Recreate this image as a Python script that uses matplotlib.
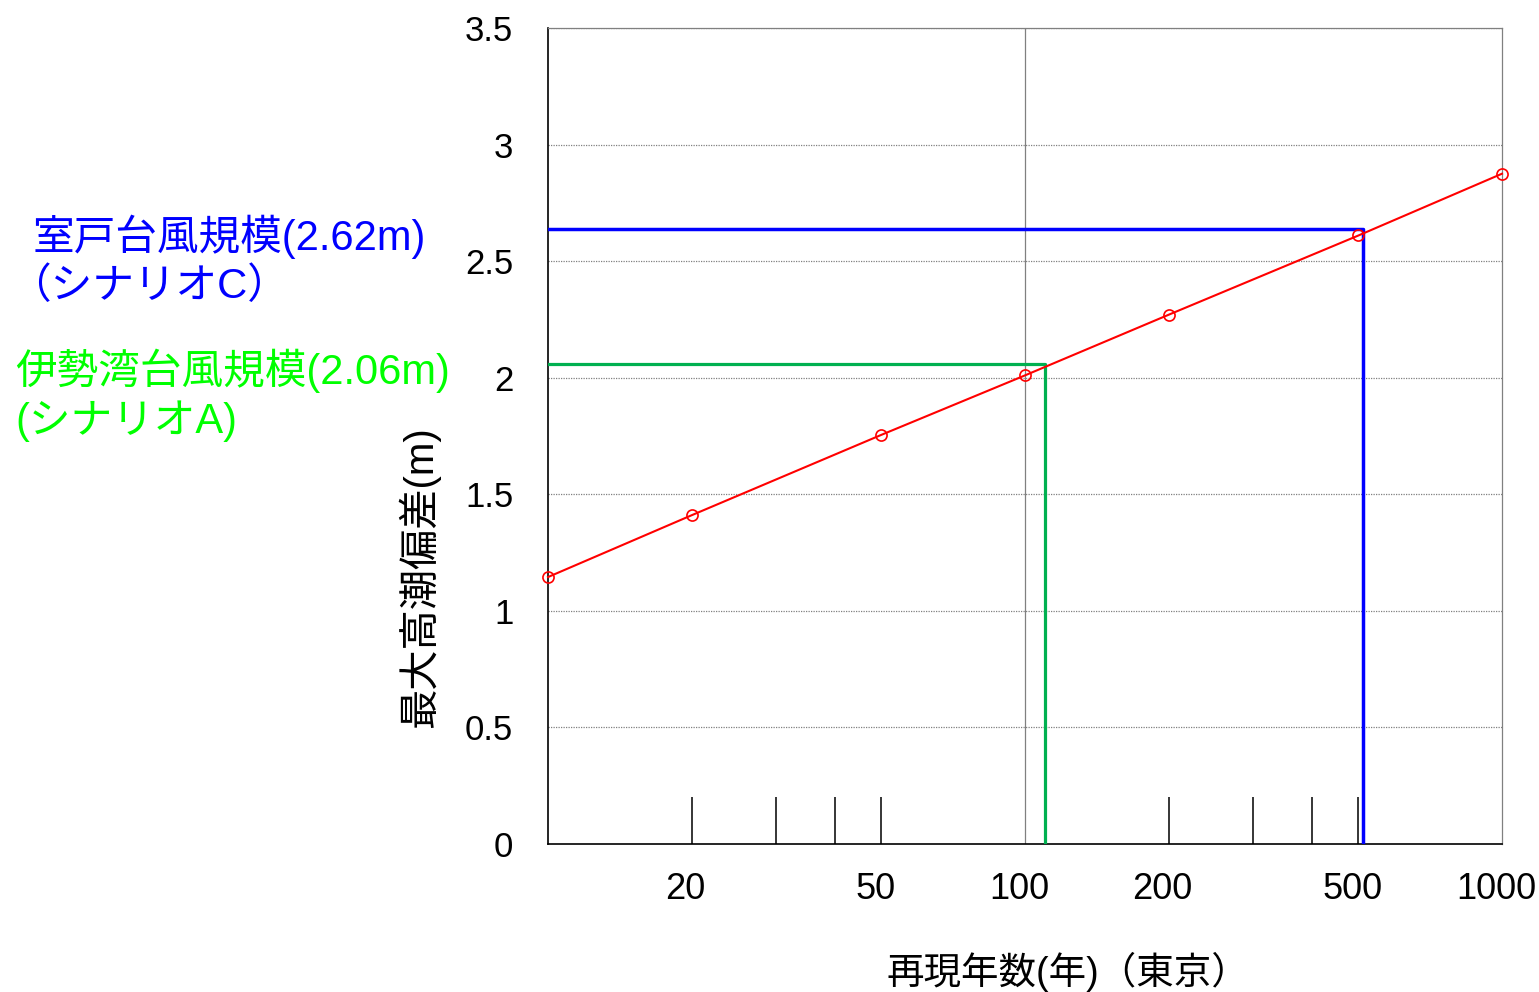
import matplotlib
matplotlib.use("Agg")
import matplotlib.pyplot as plt
from matplotlib.ticker import FixedLocator, FixedFormatter, NullFormatter
from matplotlib.transforms import ScaledTranslation

plt.rcParams['font.family'] = ['Liberation Sans', 'Noto Sans CJK JP', 'DejaVu Sans']

# return period (years) and max storm surge (m), Tokyo
periods = [10, 20, 50, 100, 200, 500, 1000]
surge = [1.145, 1.41, 1.755, 2.01, 2.27, 2.61, 2.875]

# scenario levels and the return periods they meet
muroto_level = 2.64
muroto_period = 511
isewan_level = 2.06
isewan_period = 110

tick_marks = [20, 30, 40, 50, 200, 300, 400, 500]
tick_labels = [20, 50, 100, 200, 500, 1000]
y_ticks = [0, 0.5, 1, 1.5, 2, 2.5, 3, 3.5]
y_labels = ["0", "0.5", "1", "1.5", "2", "2.5", "3", "3.5"]

fig = plt.figure(figsize=(15.39, 9.92), dpi=100)
ax = fig.add_axes([548 / 1539, 1 - 844 / 992, 954 / 1539, 816 / 992])

ax.set_xscale("log")
ax.set_xlim(10, 1000)
ax.set_ylim(0, 3.5)

# grid
for y in y_ticks[1:]:
    ax.axhline(y, color="#808080", lw=0.9, ls=(0, (1, 1)), zorder=1)
ax.axvline(100, color="#808080", lw=0.9, zorder=1)

# scenario lines
ax.plot([10, muroto_period, muroto_period], [muroto_level, muroto_level, 0],
        color="#0000ff", lw=2.5, zorder=3)
ax.plot([10, isewan_period, isewan_period], [isewan_level, isewan_level, 0],
        color="#00b050", lw=2.3, zorder=3)

# fitted curve
ax.plot(periods, surge, color="#ff0000", lw=1.5, marker="o", markersize=8,
        markerfacecolor="none", markeredgewidth=1.2, zorder=4, clip_on=False)

# ticks
ax.xaxis.remove_overlapping_locs = False
ax.xaxis.set_major_locator(FixedLocator(tick_labels))
ax.xaxis.set_major_formatter(FixedFormatter([str(t) for t in tick_labels]))
ax.xaxis.set_minor_locator(FixedLocator(tick_marks))
ax.xaxis.set_minor_formatter(NullFormatter())
ax.tick_params(axis="x", which="major", length=0, pad=20, labelsize=26)
ax.tick_params(axis="x", which="minor", direction="in", length=34, width=1.1, color="black")
ax.set_yticks(y_ticks)
ax.set_yticklabels(y_labels)
ax.tick_params(axis="y", length=0, pad=25, labelsize=25)

# labels sit a little left of their ticks
shift = ScaledTranslation(-6 / 100, 0, fig.dpi_scale_trans)
for lbl in ax.get_xticklabels():
    lbl.set_transform(lbl.get_transform() + shift)

for side in ["top", "right"]:
    ax.spines[side].set_color("#808080")
    ax.spines[side].set_linewidth(0.9)
ax.spines["left"].set_linewidth(1.2)
ax.spines["bottom"].set_linewidth(1.2)

# axis titles
fig.text(419 / 1539, 1 - 577 / 992, "最大高潮偏差(m)", rotation=90,
         ha="center", va="center", fontsize=29)
fig.text(1068 / 1539, 1 - 972 / 992, "再現年数(年)（東京）",
         ha="center", va="center", fontsize=27)

# scenario notes
fig.text(33 / 1539, 1 - 237 / 992, "室戸台風規模(2.62m)", color="#0000ff",
         ha="left", va="center", fontsize=30)
fig.text(9 / 1539, 1 - 287 / 992, "（シナリオC）", color="#0000ff",
         ha="left", va="center", fontsize=30)
fig.text(15 / 1539, 1 - 371 / 992, "伊勢湾台風規模(2.06m)", color="#00ff00",
         ha="left", va="center", fontsize=30)
fig.text(15 / 1539, 1 - 421 / 992, "(シナリオA)", color="#00ff00",
         ha="left", va="center", fontsize=30)

fig.savefig("out.png", dpi=100)
